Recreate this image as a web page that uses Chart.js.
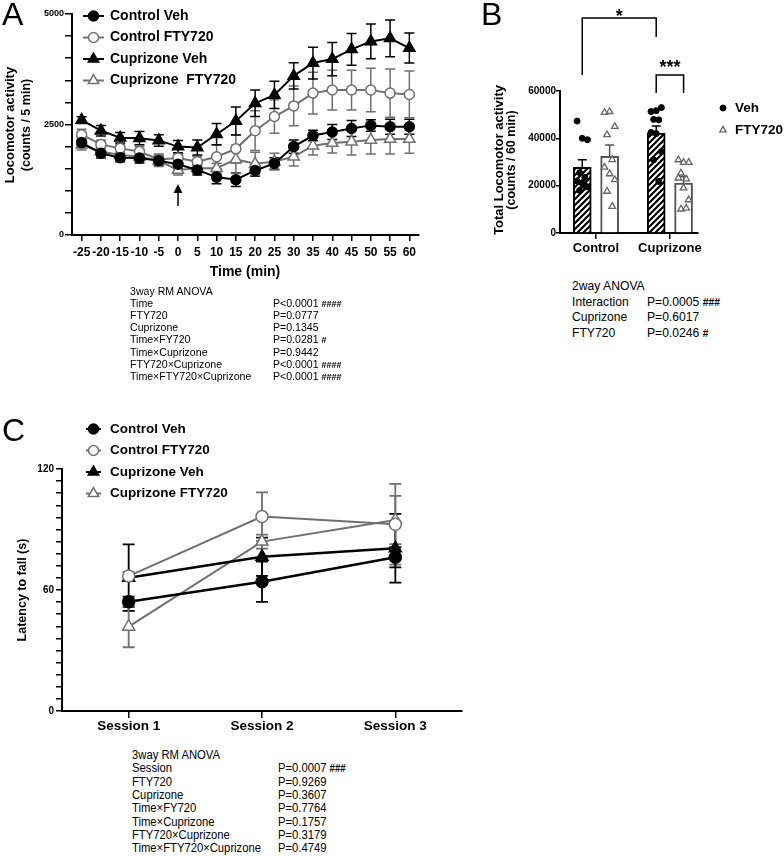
<!DOCTYPE html>
<html><head><meta charset="utf-8">
<script src="https://cdn.jsdelivr.net/npm/chart.js@4/dist/chart.umd.min.js"></script>
<style>
html,body{margin:0;padding:0;background:#fff;}
body{width:784px;height:856px;position:relative;overflow:hidden;font-family:"Liberation Sans",Arial,sans-serif;}
canvas{position:absolute;}
.t{position:absolute;white-space:nowrap;color:#000;}
.t b{font-size:0.85em;}
</style></head><body>
<canvas id="ca" width="430" height="285" style="left:0;top:0"></canvas>
<canvas id="cb" width="304" height="265" style="left:480px;top:0"></canvas>
<canvas id="cc" width="480" height="330" style="left:0;top:415px"></canvas>
<script>
// ---------------- DATA ----------------
// Panel A
const A_TIME = ['-25','-20','-15','-10','-5','0','5','10','15','20','25','30','35','40','45','50','55','60'];
const A_SERIES = ['Control Veh','Control FTY720','Cuprizone Veh','Cuprizone  FTY720'];
const A_CTRL_VEH     = [2090,1850,1750,1740,1680,1600,1470,1310,1250,1460,1620,2000,2250,2330,2410,2480,2450,2450];
const A_CTRL_VEH_SEM = [110,110,95,110,110,95,115,150,150,130,130,150,120,170,180,130,170,170];
const A_CTRL_FTY     = [2270,2050,1960,1890,1710,1740,1660,1770,1950,2360,2680,2920,3210,3280,3280,3280,3210,3180];
const A_CTRL_FTY_SEM = [120,95,95,115,120,105,115,265,320,450,380,450,470,450,450,490,545,530];
const A_CUP_VEH      = [2600,2360,2200,2190,2140,2000,1980,2280,2580,2980,3170,3600,3890,3980,4200,4380,4450,4230];
const A_CUP_VEH_SEM  = [75,120,120,150,130,140,170,240,315,300,310,295,360,375,360,395,415,340];
const A_CUP_FTY      = [2040,1890,1810,1770,1680,1470,1510,1510,1710,1610,1660,1770,2020,2080,2110,2150,2170,2170];
const A_CUP_FTY_SEM  = [115,115,115,115,130,115,115,115,320,265,190,210,210,225,300,320,340,320];
const A_Y_LABELS = [0, 2500, 5000];
const A_STATS = [
  ['3way RM ANOVA',''],['Time','P<0.0001 ####'],['FTY720','P=0.0777'],['Cuprizone','P=0.1345'],
  ['Time×FY720','P=0.0281 #'],['Time×Cuprizone','P=0.9442'],['FTY720×Cuprizone','P<0.0001 ####'],
  ['Time×FTY720×Cuprizone','P<0.0001 ####']];

// Panel B
const B_GROUPS = ['Control','Cuprizone'];
const B_LEGEND = ['Veh','FTY720'];
const B_VEH_MEAN = [27700, 42200];
const B_VEH_SEM  = [3200, 3000];
const B_FTY_MEAN = [32400, 21100];
const B_FTY_SEM  = [4800, 2800];
const B_CTRL_VEH_PTS = [47300,40000,39400,25500,23500,22000,21000,19500,18000,20000];
const B_CTRL_FTY_PTS = [50900,51300,45000,41500,31000,27800,25000,22500,17600,11200];
const B_CUP_VEH_PTS  = [51300,51700,53000,48000,47800,42500,42000,34400,30900,21800];
const B_CUP_FTY_PTS  = [30900,29800,29800,25300,22800,23200,19000,14000,10100,10500];
const B_Y_LABELS = [0,20000,40000,60000];
const B_STATS = [['2way ANOVA',''],['Interaction','P=0.0005 ###'],['Cuprizone','P=0.6017'],['FTY720','P=0.0246 #']];

// Panel C
const C_SESSIONS = ['Session 1','Session 2','Session 3'];
const C_SERIES = ['Control Veh','Control FTY720','Cuprizone Veh','Cuprizone FTY720'];
const C_CTRL_VEH     = [54.2, 64.1, 76.2];
const C_CTRL_VEH_SEM = [2.5, 10, 5];
const C_CTRL_FTY     = [66.9, 96.4, 92.6];
const C_CTRL_FTY_SEM = [2, 12, 20];
const C_CUP_VEH      = [66.1, 76.5, 80.7];
const C_CUP_VEH_SEM  = [16.5, 9.5, 17];
const C_CUP_FTY      = [41.8, 84.0, 94.7];
const C_CUP_FTY_SEM  = [10.2, 3.5, 12];
const C_Y_LABELS = [0, 60, 120];
const C_STATS = [
  ['3way RM ANOVA',''],['Session','P=0.0007 ###'],['FTY720','P=0.9269'],['Cuprizone','P=0.3607'],
  ['Time×FY720','P=0.7764'],['Time×Cuprizone','P=0.1757'],['FTY720×Cuprizone','P=0.3179'],
  ['Time×FTY720×Cuprizone','P=0.4749']];

// ---------------- STYLE / HELPERS ----------------
const FONT = '"Liberation Sans", Arial, sans-serif';
const BLACK = '#000', GRAY = '#707070';
Chart.defaults.font.family = FONT;
Chart.defaults.color = '#000';

function addText(x, y, str, font, o = {}) {
  const d = document.createElement('div');
  d.className = 't'; d.style.font = font;
  const k = str.indexOf(' #');
  if (k >= 0) {
    d.appendChild(document.createTextNode(str.slice(0, k + 1)));
    const b = document.createElement('b'); b.textContent = str.slice(k + 1); d.appendChild(b);
  } else d.textContent = str;
  d.style.left = x + 'px'; d.style.top = y + 'px';
  if (o.rot) { d.style.transform = 'translate(-50%,-50%) rotate(-90deg)'; }
  else if (o.center) { d.style.transform = 'translate(-50%,-50%)'; }
  else { d.style.transformOrigin = '0 50%'; d.style.transform = 'translateY(-50%)' + (o.sx ? ` scaleX(${o.sx})` : ''); }
  document.body.appendChild(d);
}
function addTable(rows, x1, x2, y0, dy, size, sx) {
  rows.forEach((r, i) => {
    const y = y0 + i * dy;
    addText(x1, y, r[0], `${size}px/1 ${FONT}`, {sx});
    if (r[1]) addText(x2, y, r[1], `${size}px/1 ${FONT}`, {sx});
  });
}
function drawMarker(ctx, style, x, y, r, fill, stroke, bw) {
  ctx.beginPath();
  if (style === 'triangle') {
    let rad = 0;
    for (let k = 0; k < 3; k++) {
      const px = x + Math.sin(rad) * r, py = y - Math.cos(rad) * r;
      k ? ctx.lineTo(px, py) : ctx.moveTo(px, py);
      rad += 2 * Math.PI / 3;
    }
    ctx.closePath();
  } else ctx.arc(x, y, r, 0, 2 * Math.PI);
  ctx.fillStyle = fill; ctx.fill();
  ctx.strokeStyle = stroke; ctx.lineWidth = bw; ctx.stroke();
}

const errorBars = {
  id: 'errorBars',
  beforeDatasetsDraw(chart, args, o) {
    const ctx = chart.ctx;
    chart.data.datasets.forEach((ds, i) => {
      if (!ds.sem) return;
      const meta = chart.getDatasetMeta(i);
      const ys = chart.scales[meta.yAxisID];
      ctx.save();
      ctx.strokeStyle = ds.borderColor; ctx.lineWidth = o.width;
      meta.data.forEach((el, j) => {
        const raw = ds.data[j];
        const v = typeof raw === 'object' ? raw.y : raw;
        const e = ds.sem[j];
        const yt = ys.getPixelForValue(v + e), yb = ys.getPixelForValue(v - e);
        const x = el.x, c = o.cap;
        ctx.beginPath();
        ctx.moveTo(x, yt); ctx.lineTo(x, yb);
        ctx.moveTo(x - c, yt); ctx.lineTo(x + c, yt);
        ctx.moveTo(x - c, yb); ctx.lineTo(x + c, yb);
        ctx.stroke();
      });
      ctx.restore();
    });
  }
};

const customLegend = {
  id: 'customLegend',
  afterDraw(chart, args, o) {
    const ctx = chart.ctx;
    ctx.save();
    o.sets.forEach((di, i) => {
      const ds = chart.data.datasets[di];
      const y = o.y0 + i * o.dy;
      if (o.x2 > o.x1) {
        ctx.strokeStyle = ds.borderColor; ctx.lineWidth = o.lw;
        ctx.beginPath(); ctx.moveTo(o.x1, y); ctx.lineTo(o.x2, y); ctx.stroke();
      }
      drawMarker(ctx, ds.pointStyle, o.mx, y, o.r * (ds.pointStyle === 'triangle' ? o.tri : 1),
                 ds.pointBackgroundColor, ds.pointBorderColor, ds.pointBorderWidth);
      ctx.fillStyle = '#000'; ctx.font = o.font; ctx.textBaseline = 'middle'; ctx.textAlign = 'left';
      ctx.fillText(ds.label, o.tx, y);
    });
    ctx.restore();
  }
};

function yAxis(max, step, labels, fontSize, tickLen, pad, width) {
  return {
    type: 'linear', min: 0, max,
    afterFit: s => { s.width = width; },
    afterBuildTicks: s => { const t = []; for (let v = 0; v <= max + 1e-9; v += step) t.push({value: v}); s.ticks = t; },
    ticks: { autoSkip: false, padding: pad, color: '#000', font: {size: fontSize, weight: 'bold'},
             callback: v => labels.includes(v) ? String(v) : '' },
    grid: { drawOnChartArea: false, tickLength: tickLen, color: '#000', lineWidth: 1.5 },
    border: { color: '#000', width: 2 }
  };
}
function catAxis(height, fontSize, tickLen, pad) {
  return {
    type: 'category', offset: true,
    afterFit: s => { s.height = height; },
    ticks: { autoSkip: false, maxRotation: 0, padding: pad, color: '#000', font: {size: fontSize, weight: 'bold'} },
    grid: { drawOnChartArea: false, offset: false, tickLength: tickLen, color: '#000', lineWidth: 1.5 },
    border: { color: '#000', width: 2 }
  };
}
function lineSet(label, data, sem, color, style, open, r, lw) {
  return { label, data, sem, borderColor: color, borderWidth: lw, tension: 0,
    pointStyle: style, pointRadius: r, pointBackgroundColor: open ? '#fff' : color,
    pointBorderColor: color, pointBorderWidth: 1.5, fill: false };
}

// ---------------- PANEL A ----------------
const arrowPlugin = {
  id: 'arrowA',
  afterDraw(chart) {
    const ctx = chart.ctx, x = chart.scales.x.getPixelForValue(A_TIME.indexOf('0'));
    ctx.save(); ctx.fillStyle = '#000'; ctx.strokeStyle = '#000'; ctx.lineWidth = 1.5;
    ctx.beginPath(); ctx.moveTo(x, 184); ctx.lineTo(x - 4.5, 193); ctx.lineTo(x + 4.5, 193); ctx.closePath(); ctx.fill();
    ctx.beginPath(); ctx.moveTo(x, 192); ctx.lineTo(x, 206); ctx.stroke();
    ctx.restore();
  }
};
new Chart(document.getElementById('ca'), {
  type: 'line',
  data: { labels: A_TIME, datasets: [
    lineSet(A_SERIES[0], A_CTRL_VEH, A_CTRL_VEH_SEM, BLACK, 'circle', false, 5, 2),
    lineSet(A_SERIES[1], A_CTRL_FTY, A_CTRL_FTY_SEM, GRAY, 'circle', true, 5, 2),
    lineSet(A_SERIES[2], A_CUP_VEH, A_CUP_VEH_SEM, BLACK, 'triangle', false, 6.5, 2),
    lineSet(A_SERIES[3], A_CUP_FTY, A_CUP_FTY_SEM, GRAY, 'triangle', true, 6.5, 2)
  ]},
  options: {
    responsive: false, animation: false, events: [],
    layout: { padding: { left: 0, right: 11, top: 14, bottom: 0 } },
    scales: { x: catAxis(50, 12, 6, 4), y: yAxis(5000, 500, A_Y_LABELS, 9, 7, 1, 72) },
    plugins: { legend: {display: false}, tooltip: {enabled: false},
      errorBars: { cap: 5, width: 1.5 },
      customLegend: { sets: [0,1,2,3], y0: 16, dy: 21.5, x1: 83, x2: 104, mx: 93.5, tx: 110, r: 5, tri: 1.2, lw: 2,
                      font: `bold 14px ${FONT}` } }
  },
  plugins: [errorBars, customLegend, arrowPlugin]
});

// ---------------- PANEL B ----------------
const B_OFF = 0.185;
const cbEl = document.getElementById('cb');
function makeHatch(ctx) {
  const c = document.createElement('canvas'); c.width = c.height = 6;
  const x = c.getContext('2d');
  x.fillStyle = '#fff'; x.fillRect(0, 0, 6, 6);
  x.strokeStyle = '#000'; x.lineWidth = 2.2;
  x.beginPath();
  x.moveTo(0, 6); x.lineTo(6, 0);
  x.moveTo(-3, 3); x.lineTo(3, -3);
  x.moveTo(3, 9); x.lineTo(9, 3);
  x.stroke();
  return ctx.createPattern(c, 'repeat');
}
const JIT = [-0.07, 0, 0.07, -0.035, 0.035];
const pts = (arr, g, side) => arr.map((v, i) => ({ x: g + side * B_OFF + JIT[i % JIT.length], y: v }));
const barOpts = { grouped: false, categoryPercentage: 1, barPercentage: 1, maxBarThickness: 18, borderWidth: 2, borderSkipped: 'start', order: 2 };
const bracketPlugin = {
  id: 'bracketsB',
  afterDraw(chart) {
    const ctx = chart.ctx, xs = chart.scales.x, top = chart.chartArea.top;
    const xL = xs.getPixelForValue(0 - B_OFF), xR = xs.getPixelForValue(1 - B_OFF), xR2 = xs.getPixelForValue(1 + B_OFF);
    ctx.save(); ctx.strokeStyle = '#000'; ctx.lineWidth = 1.5;
    ctx.beginPath();
    ctx.moveTo(xL, top - 16); ctx.lineTo(xL, top - 73); ctx.lineTo(xR, top - 73); ctx.lineTo(xR, top - 54);
    ctx.moveTo(xR, top + 2); ctx.lineTo(xR, top - 16); ctx.lineTo(xR2, top - 16); ctx.lineTo(xR2, top + 2);
    ctx.stroke();
    ctx.fillStyle = '#000'; ctx.font = `bold 18px ${FONT}`; ctx.textAlign = 'center'; ctx.textBaseline = 'alphabetic';
    ctx.fillText('*', (xL + xR) / 2, top - 69);
    ctx.fillText('***', (xR + xR2) / 2, top - 18);
    ctx.restore();
  }
};
new Chart(cbEl, {
  type: 'bar',
  data: { datasets: [
    Object.assign({ type: 'bar', label: B_LEGEND[0], data: B_VEH_MEAN.map((v, i) => ({x: i - B_OFF, y: v})), sem: B_VEH_SEM,
      backgroundColor: makeHatch(cbEl.getContext('2d')), borderColor: '#000' }, barOpts),
    Object.assign({ type: 'bar', label: B_LEGEND[1], data: B_FTY_MEAN.map((v, i) => ({x: i + B_OFF, y: v})), sem: B_FTY_SEM,
      backgroundColor: '#fff', borderColor: '#555' }, barOpts),
    { type: 'scatter', order: 1, label: B_LEGEND[0], data: pts(B_CTRL_VEH_PTS, 0, -1).concat(pts(B_CUP_VEH_PTS, 1, -1)),
      pointStyle: 'circle', pointRadius: 3, pointBackgroundColor: '#000', pointBorderColor: '#000', pointBorderWidth: 1, borderColor: '#000' },
    { type: 'scatter', order: 1, label: B_LEGEND[1], data: pts(B_CTRL_FTY_PTS, 0, 1).concat(pts(B_CUP_FTY_PTS, 1, 1)),
      pointStyle: 'triangle', pointRadius: 3.8, pointBackgroundColor: '#fff', pointBorderColor: '#666', pointBorderWidth: 1.3, borderColor: '#666' }
  ]},
  options: {
    responsive: false, animation: false, events: [],
    layout: { padding: { left: 0, right: 86, top: 91, bottom: 0 } },
    scales: {
      x: { type: 'linear', min: -0.486, max: 1.38, offset: false,
           afterFit: s => { s.height = 32; },
           afterBuildTicks: s => { s.ticks = B_GROUPS.map((g, i) => ({value: i})); },
           ticks: { autoSkip: false, maxRotation: 0, padding: 2, color: '#000', font: {size: 13, weight: 'bold'},
                    callback: v => B_GROUPS[v] !== undefined ? B_GROUPS[v] : '' },
           grid: { drawOnChartArea: false, offset: false, tickLength: 6, color: '#000', lineWidth: 1.5 },
           border: { color: '#000', width: 2 } },
      y: yAxis(60000, 20000, B_Y_LABELS, 10, 4, 0, 80)
    },
    plugins: { legend: {display: false}, tooltip: {enabled: false},
      errorBars: { cap: 4.5, width: 1.5 },
      customLegend: { sets: [2,3], y0: 108, dy: 22, x1: 0, x2: 0, mx: 243, tx: 255, r: 3, tri: 1.2, lw: 0,
                      font: `bold 13.5px ${FONT}` } }
  },
  plugins: [errorBars, customLegend, bracketPlugin]
});

// ---------------- PANEL C ----------------
new Chart(document.getElementById('cc'), {
  type: 'line',
  data: { labels: C_SESSIONS, datasets: [
    lineSet(C_SERIES[0], C_CTRL_VEH, C_CTRL_VEH_SEM, BLACK, 'circle', false, 6, 2.5),
    lineSet(C_SERIES[1], C_CTRL_FTY, C_CTRL_FTY_SEM, GRAY, 'circle', true, 6, 2),
    lineSet(C_SERIES[2], C_CUP_VEH, C_CUP_VEH_SEM, BLACK, 'triangle', false, 7, 2.5),
    lineSet(C_SERIES[3], C_CUP_FTY, C_CUP_FTY_SEM, GRAY, 'triangle', true, 7, 2)
  ]},
  options: {
    responsive: false, animation: false, events: [],
    layout: { padding: { left: 0, right: 18, top: 54, bottom: 0 } },
    scales: { x: catAxis(34, 13.5, 7, 0), y: yAxis(120, 6, C_Y_LABELS, 10, 6, 2, 62) },
    plugins: { legend: {display: false}, tooltip: {enabled: false},
      errorBars: { cap: 6, width: 1.8 },
      customLegend: { sets: [0,1,2,3], y0: 14, dy: 21.5, x1: 86, x2: 101, mx: 93.5, tx: 110, r: 5, tri: 1.2, lw: 2,
                      font: `bold 13.5px ${FONT}` } }
  },
  plugins: [errorBars, customLegend]
});

// ---------------- TEXT ----------------
addText(2, 14, 'A', `32px/1 ${FONT}`);
addText(481, 14, 'B', `32px/1 ${FONT}`);
addText(2, 430, 'C', `32px/1 ${FONT}`);

addText(9, 124.5, 'Locomotor activity', `bold 13px/1 ${FONT}`, {rot: true});
addText(25.5, 124.5, '(counts / 5 min)', `bold 12.5px/1 ${FONT}`, {rot: true});
addText(245, 271, 'Time (min)', `bold 14px/1 ${FONT}`, {center: true});

addText(498, 160, 'Total Locomotor activity', `bold 13px/1 ${FONT}`, {rot: true});
addText(511, 160, '(counts / 60 min)', `bold 12.5px/1 ${FONT}`, {rot: true});

addText(22, 590, 'Latency to fall (s)', `bold 12.5px/1 ${FONT}`, {rot: true});

addTable(A_STATS, 130, 273, 292, 12.1, 11.5, 0.92);
addTable(B_STATS, 572, 647, 286, 15.7, 13.5, 0.9);
addTable(C_STATS, 132, 278, 755, 13.3, 12.5, 0.9);
</script>
</body></html>
